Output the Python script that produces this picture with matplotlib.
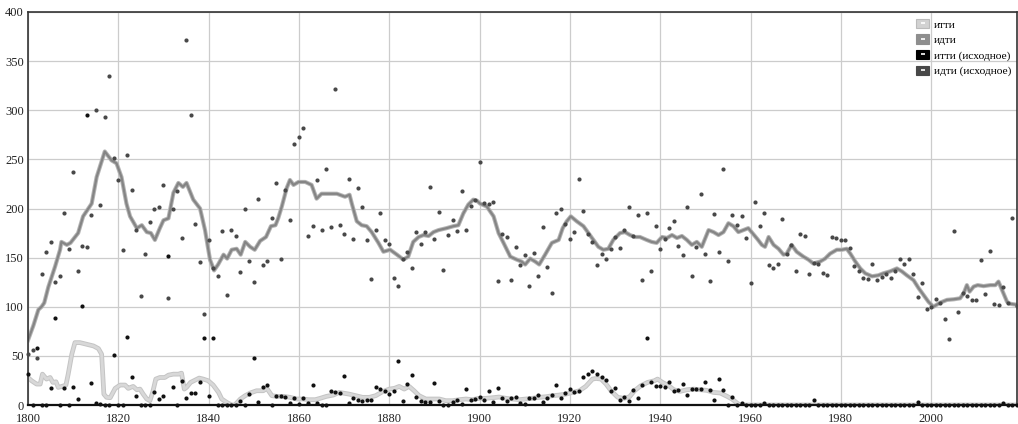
import numpy as np
import matplotlib
matplotlib.use("Agg")
import matplotlib.pyplot as plt
from matplotlib.patches import Patch
from matplotlib.lines import Line2D
from matplotlib.legend_handler import HandlerTuple

plt.rcParams['font.family'] = ['Liberation Serif', 'DejaVu Serif']

years = np.arange(1800, 2020)

# raw yearly counts, "идти"
idti_raw = [
    52, 56, 48, 133, 156, 166, 125, 131, 195, 159,   # 1800
    237, 136, 162, 161, 193, 300, 204, 293, 335, 251,  # 1810
    229, 158, 254, 219, 178, 111, 154, 186, 200, 202,  # 1820
    224, 109, 199, 218, 170, 372, 295, 184, 146, 93,   # 1830
    168, 139, 131, 177, 112, 178, 172, 135, 200, 147,  # 1840
    125, 210, 143, 147, 190, 226, 149, 219, 188, 266,  # 1850
    273, 282, 172, 182, 229, 178, 240, 181, 322, 183,  # 1860
    174, 230, 169, 221, 202, 168, 128, 178, 195, 168,  # 1870
    164, 129, 121, 149, 156, 139, 176, 164, 176, 222,  # 1880
    169, 196, 137, 173, 188, 177, 218, 178, 203, 209,  # 1890
    247, 206, 205, 207, 126, 174, 171, 127, 161, 142,  # 1900
    153, 121, 155, 131, 181, 140, 114, 195, 199, 184,  # 1910
    169, 176, 230, 197, 174, 166, 142, 154, 149, 159,  # 1920
    171, 160, 178, 202, 172, 193, 127, 195, 136, 182,  # 1930
    159, 169, 180, 187, 162, 153, 202, 131, 161, 215,  # 1940
    154, 126, 194, 156, 240, 147, 193, 183, 192, 170,  # 1950
    124, 207, 182, 195, 143, 139, 144, 189, 154, 163,  # 1960
    136, 174, 172, 133, 145, 144, 134, 132, 171, 170,  # 1970
    168, 168, 160, 141, 136, 129, 128, 144, 127, 130,  # 1980
    133, 129, 136, 149, 144, 149, 133, 110, 124, 98,   # 1990
    100, 108, 104, 88, 67, 177, 95, 114, 111, 107,     # 2000
    107, 148, 113, 157, 103, 102, 120, 104, 190, 101,  # 2010
]

# raw yearly counts, "итти"
itti_raw = [
    32, 0, 58, 0, 0, 17, 89, 0, 17, 0,        # 1800
    18, 6, 101, 295, 22, 2, 1, 0, 0, 51,      # 1810
    0, 0, 69, 29, 9, 0, 0, 0, 13, 6,          # 1820
    9, 152, 18, 0, 24, 7, 12, 12, 23, 68,     # 1830
    9, 68, 0, 0, 0, 0, 0, 4, 0, 11,           # 1840
    48, 3, 18, 20, 0, 9, 9, 8, 2, 7,          # 1850
    1, 7, 2, 20, 2, 0, 0, 14, 13, 12,         # 1860
    30, 2, 7, 5, 4, 5, 5, 18, 16, 14,         # 1870
    11, 14, 45, 4, 21, 31, 8, 4, 3, 3,        # 1880
    22, 4, 0, 0, 3, 5, 1, 16, 5, 6,           # 1890
    8, 5, 14, 3, 17, 7, 4, 7, 8, 2,           # 1900
    1, 7, 7, 10, 3, 7, 10, 20, 7, 12,         # 1910
    16, 13, 14, 29, 32, 35, 32, 29, 25, 14,   # 1920
    17, 5, 8, 4, 15, 7, 20, 68, 23, 19,       # 1930
    19, 18, 23, 14, 15, 21, 10, 16, 16, 16,   # 1940
    23, 15, 5, 26, 15, 0, 8, 0, 2, 0,         # 1950
    0, 0, 0, 2, 0, 0, 0, 0, 0, 0,             # 1960
    0, 0, 0, 0, 5, 0, 0, 0, 0, 0,             # 1970
    0, 0, 0, 0, 0, 0, 0, 0, 0, 0,             # 1980
    0, 0, 0, 0, 0, 0, 0, 3, 0, 0,             # 1990
    0, 0, 0, 0, 0, 0, 0, 0, 0, 0,             # 2000
    0, 0, 0, 0, 0, 0, 2, 0, 0, 0,             # 2010
]

idti_smooth = [
    (1800, 66), (1801.2, 81), (1802.3, 97), (1803, 100), (1803.6, 104), (1804.5, 120),
    (1806, 141), (1807.1, 158), (1807.4, 166), (1808.6, 163), (1809.4, 165), (1811.1, 175),
    (1812.2, 192), (1814.1, 205), (1815.2, 232), (1817, 258), (1818.5, 249), (1819.6, 246),
    (1820.7, 232), (1821.8, 205), (1822.6, 192), (1824.1, 180), (1825.2, 183), (1826.3, 176),
    (1827.2, 175), (1828.1, 168), (1829.2, 180), (1830, 188), (1831.1, 190), (1832.2, 216),
    (1833.3, 226), (1834.3, 222), (1835.1, 226), (1836.6, 209), (1838.1, 200), (1839.2, 178),
    (1840.3, 148), (1841.2, 137), (1842.1, 143), (1843.3, 153), (1844.1, 149), (1845.1, 158),
    (1846.2, 159), (1847.1, 153), (1848.1, 166), (1849.2, 161), (1850.2, 158), (1851.4, 167),
    (1852.7, 171), (1853.8, 182), (1854.8, 183), (1855.4, 190), (1856.2, 202), (1857.3, 221),
    (1858, 229), (1858.8, 224), (1859.9, 227), (1861.4, 227), (1862.8, 224), (1863.9, 210),
    (1865, 215), (1866.9, 215), (1868.4, 215), (1870.2, 212), (1871.2, 214), (1871.7, 205),
    (1872.8, 187), (1873.9, 183), (1875, 182), (1876.1, 176), (1877.6, 165), (1878.7, 156),
    (1880.2, 158), (1881.7, 153), (1883.1, 148), (1884.2, 151), (1885.3, 166), (1886.5, 171),
    (1887.6, 173), (1888.7, 172), (1889.8, 176), (1890.9, 178), (1892.7, 180), (1894.2, 182),
    (1895.3, 183), (1896.4, 195), (1897.5, 204), (1898.6, 209), (1899.4, 208), (1900.1, 205),
    (1901.6, 202), (1903.1, 192), (1904.2, 175), (1905.3, 165), (1906.8, 151), (1908.2, 148),
    (1909.3, 146), (1910.1, 143), (1911.2, 149), (1912.3, 146), (1913.2, 143), (1914.5, 153),
    (1916, 165), (1917.5, 168), (1918.4, 180), (1919.3, 187), (1920.2, 192), (1921.5, 187),
    (1923, 182), (1924.1, 175), (1925.2, 168), (1926.3, 161), (1927.4, 158), (1928.5, 159),
    (1929.6, 168), (1931.1, 175), (1932.2, 176), (1933.3, 173), (1934.4, 171), (1935.5, 171),
    (1937, 168), (1938.1, 166), (1939.2, 165), (1940.4, 171), (1941.5, 170), (1942.6, 173),
    (1943.7, 170), (1944.8, 172), (1945.9, 168), (1947, 163), (1948.1, 166), (1949.2, 161),
    (1950.7, 178), (1951.8, 176), (1952.9, 173), (1954, 176), (1955.1, 185), (1956.2, 182),
    (1957.3, 176), (1958.4, 178), (1959.5, 180), (1960.6, 174), (1961.5, 169), (1962.5, 163),
    (1963.2, 161), (1964, 171), (1965.1, 163), (1966.2, 159), (1967.3, 153), (1968, 154),
    (1969.1, 163), (1970.2, 156), (1971.7, 151), (1972.8, 148), (1973.9, 144), (1975.4, 146),
    (1976.5, 149), (1977.6, 154), (1979.1, 158), (1980.2, 158), (1981.3, 159), (1982.1, 154),
    (1983.2, 146), (1984.3, 139), (1985.4, 134), (1986.9, 131), (1988.3, 132), (1989.4, 134),
    (1990.9, 136), (1992.4, 139), (1993.5, 136), (1994.6, 132), (1996.1, 127), (1997.2, 119),
    (1998.3, 112), (1999.4, 105), (2000.5, 100), (2001.9, 104), (2003.5, 107), (2005, 107.6),
    (2006.4, 108.6), (2007.2, 113.7), (2007.9, 122), (2008.5, 115.4), (2009.4, 120.5),
    (2010.3, 122), (2011.6, 121), (2013.1, 122), (2014.2, 122), (2014.9, 125.6), (2016, 113.7),
    (2016.8, 105), (2017.5, 103), (2019, 102),
]

itti_smooth = [
    (1800, 28), (1800.8, 24.7), (1801.9, 21.3), (1802.7, 21.3), (1803.2, 31.4), (1804.1, 26.4),
    (1804.9, 28), (1805.5, 23), (1806.2, 23.6), (1806.7, 17.9), (1807.5, 18.9), (1808.4, 20.3),
    (1808.9, 31.4), (1809.7, 51.7), (1810.4, 63.5), (1811.5, 63.5), (1813, 61.8), (1814.5, 60.1),
    (1815.6, 57.4), (1816.3, 51.7), (1816.8, 11.1), (1817.4, 7.8), (1818.2, 7.4), (1819.3, 16.9),
    (1820.4, 20.3), (1821.5, 20.3), (1822.2, 16.9), (1822.7, 17.9), (1823.3, 18.9), (1824.1, 15.5),
    (1824.8, 16.2), (1825.5, 11.1), (1826.3, 6.1), (1827, 4.4), (1827.6, 12.8), (1828.3, 26.4),
    (1829.2, 28), (1830.3, 28), (1831.1, 30.4), (1832.2, 31.4), (1833.3, 31.4), (1834, 32.4),
    (1834.6, 16.2), (1835.1, 17.9), (1836, 23), (1837, 25.3), (1837.9, 27.4), (1838.8, 26.4),
    (1839.9, 24.7), (1841, 20.3), (1842.2, 12.8), (1842.9, 6.1), (1844, 2.7), (1845.1, 0),
    (1845.8, 0), (1847, 6), (1848.1, 9.5), (1849.2, 12.2), (1850.6, 14.5), (1852.1, 14.5),
    (1852.9, 16.9), (1854, 9.5), (1855.1, 8.8), (1856.6, 8.8), (1858, 7.8), (1859.5, 6.1),
    (1861, 6.1), (1862.1, 5.4), (1863.6, 5.4), (1864.7, 6.8), (1866.1, 8.8), (1867.6, 10.1),
    (1868.9, 12.8), (1871.1, 11.1), (1872.6, 9.5), (1874.1, 7.8), (1875.6, 7.8), (1877, 9.5),
    (1878.5, 13.5), (1880, 16.2), (1881.1, 16.9), (1882.2, 18.9), (1883.3, 16.2), (1884.4, 18.9),
    (1885.5, 14.5), (1886.6, 9.5), (1888.1, 6.1), (1889.6, 6.1), (1891.1, 6.1), (1892.5, 4.4),
    (1894, 4.4), (1895.5, 5.4), (1897, 6.1), (1898.4, 5.4), (1899.9, 6.8), (1901.4, 6.8),
    (1902.9, 7.4), (1904.3, 8.1), (1905.8, 6.8), (1907.3, 6.1), (1908.8, 5.4), (1910.3, 6.1),
    (1911.7, 6.8), (1913.2, 7.8), (1914.7, 8.4), (1916.2, 9.5), (1917.6, 10.1), (1919.1, 11.1),
    (1920.6, 12.8), (1922.1, 14.5), (1923.5, 18.9), (1925, 26.4), (1925.8, 27), (1926.9, 26.4),
    (1928, 21.3), (1929.1, 14.5), (1930.6, 7.8), (1932, 6.8), (1933.2, 8.4), (1934.3, 14.5),
    (1935.7, 19.6), (1937.2, 23), (1938.7, 24.7), (1939.4, 26.4), (1940.5, 23), (1941.9, 19.6),
    (1943, 15.5), (1944.4, 13.9), (1945.9, 15.5), (1947.4, 16.2), (1948.9, 15.5), (1950.3, 14.9),
    (1951.8, 12.8), (1953.3, 12.2), (1954.8, 8.8), (1955.9, 6.1), (1957, 2), (1957.7, 0),
    (2019, 0),
]

labels = ["итти", "идти", "итти (исходное)", "идти (исходное)"]
colors = ["#d2d2d2", "#8e8e8e", "#000000", "#484848"]

fig = plt.figure(figsize=(10.18, 4.24), dpi=100)
ax = fig.add_axes([28 / 1018, 19 / 424, 989 / 1018, 393 / 424])

ix, iy = zip(*itti_smooth)
dx, dy = zip(*idti_smooth)
ax.plot(ix, iy, color="#c4c4c4", lw=3.4, solid_joinstyle="round", zorder=2)
ax.plot(ix, iy, color="#d8d8d8", lw=2.0, solid_joinstyle="round", zorder=2)
ax.plot(dx, dy, color="#b4b4b4", lw=3.0, solid_joinstyle="round", zorder=2)
ax.plot(dx, dy, color="#858585", lw=1.6, solid_joinstyle="round", zorder=2)

ax.scatter(years, idti_raw, s=9, color=colors[3], linewidths=0, zorder=3, clip_on=False)
ax.scatter(years, itti_raw, s=9, color="#111111", linewidths=0, zorder=3, clip_on=False)

ax.set_xlim(1800, 2019)
ax.set_ylim(0, 400)
ax.set_xticks(range(1800, 2020, 20))
ax.set_yticks(range(0, 401, 50))
ax.grid(True, color="#cccccc", lw=0.9)
ax.set_axisbelow(True)
ax.tick_params(length=0, labelsize=9, colors="#222222")
ax.tick_params(axis="x", pad=6)
ax.tick_params(axis="y", pad=3)
for s in ax.spines.values():
    s.set_color("#333333")
    s.set_linewidth(1.2)
ax.spines["bottom"].set_linewidth(1.6)
ax.spines["bottom"].set_color("#111111")

handles = []
for c in colors:
    edge = "#bbbbbb" if c == "#d2d2d2" else c
    handles.append((Patch(facecolor=c, edgecolor=edge, lw=0.8),
                    Line2D([], [], marker="_", color="white", ms=3.5, mew=1.2, ls="None")))
leg = ax.legend(handles, labels, handler_map={tuple: HandlerTuple(ndivide=1, pad=0)},
                loc="upper left", bbox_to_anchor=(916 / 1018, 1 - 19 / 424),
                bbox_transform=fig.transFigure, frameon=False, fontsize=8.2,
                handlelength=1.15, handleheight=0.9, handletextpad=0.4,
                labelspacing=0.42, borderpad=0, borderaxespad=0)

fig.savefig("out.png", dpi=100)
